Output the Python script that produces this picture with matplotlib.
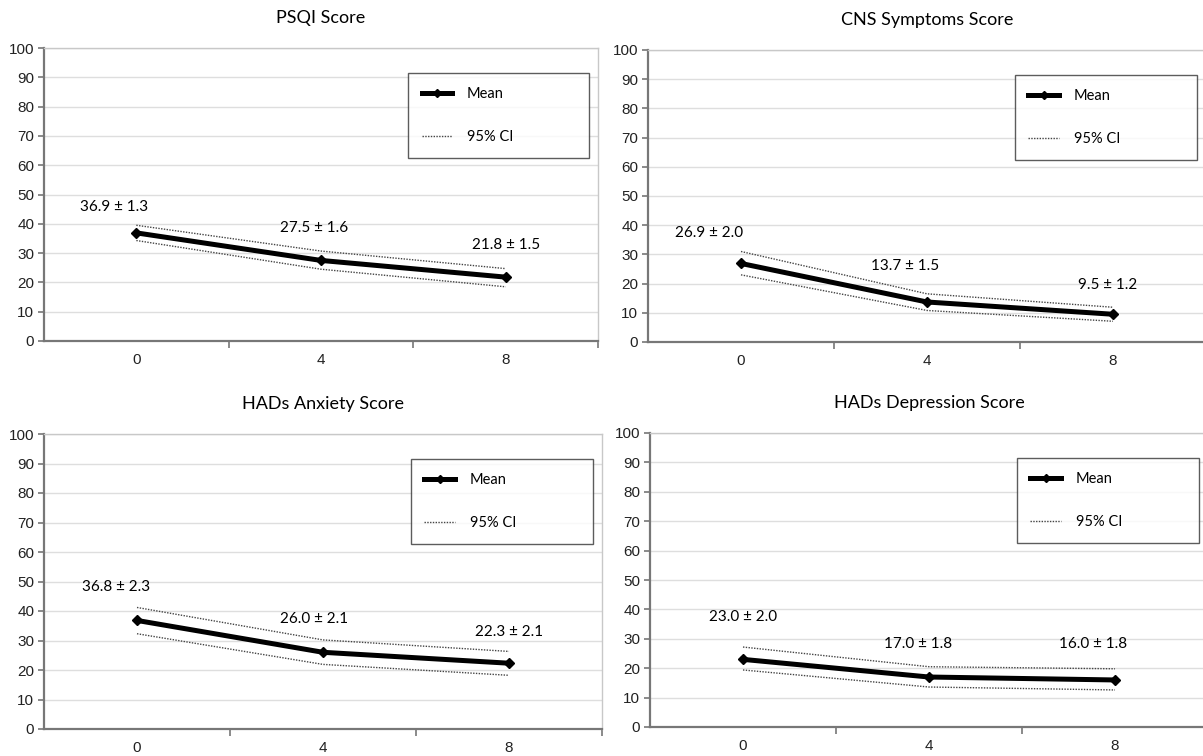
import matplotlib
matplotlib.use("Agg")
import matplotlib.pyplot as plt
from matplotlib.lines import Line2D

# weeks on the category axis
weeks = ["0", "4", "8"]

titles = ["PSQI Score", "CNS Symptoms Score", "HADs Anxiety Score", "HADs Depression Score"]

# mean values per panel
psqi_mean = [36.9, 27.5, 21.8]
cns_mean = [26.9, 13.7, 9.5]
anx_mean = [36.8, 26.0, 22.3]
dep_mean = [23.0, 17.0, 16.0]

# standard error printed in the labels
psqi_se = [1.3, 1.6, 1.5]
cns_se = [2.0, 1.5, 1.2]
anx_se = [2.3, 2.1, 2.1]
dep_se = [2.0, 1.8, 1.8]

# 95% CI bounds
psqi_upper = [39.5, 30.7, 24.7]
psqi_lower = [34.3, 24.5, 18.5]
cns_upper = [31.0, 16.5, 11.9]
cns_lower = [23.0, 10.8, 7.1]
anx_upper = [41.2, 30.2, 26.3]
anx_lower = [32.3, 21.9, 18.2]
dep_upper = [27.2, 20.5, 19.8]
dep_lower = [19.4, 13.6, 12.6]

panels = [
    (psqi_mean, psqi_se, psqi_upper, psqi_lower),
    (cns_mean, cns_se, cns_upper, cns_lower),
    (anx_mean, anx_se, anx_upper, anx_lower),
    (dep_mean, dep_se, dep_upper, dep_lower),
]

# layout: axes rectangles in pixels (left, top, width, height)
W, H = 1203, 756
rects_px = [(44, 48, 554, 293), (648, 50, 558, 292), (44, 434, 558, 295), (650, 433, 558, 294)]
# label placement (x shift in categories, y in data units)
label_xy = [
    [(-0.12, 45.7), (-0.04, 38.6), (0.0, 32.8)],
    [(-0.17, 37.3), (-0.12, 26.0), (-0.03, 19.5)],
    [(-0.11, 48.1), (-0.05, 37.3), (0.0, 32.9)],
    [(0.0, 37.4), (-0.06, 28.2), (-0.12, 28.2)],
]

TEXT_FONT = ["Lato", "DejaVu Sans"]
TICK_FONT = ["Liberation Sans Narrow", "Liberation Sans", "DejaVu Sans"]

fig = plt.figure(figsize=(W / 100, H / 100), dpi=100)

for k in range(4):
    x0, y0, w, h = rects_px[k]
    ax = fig.add_axes([x0 / W, 1 - (y0 + h) / H, w / W, h / H])
    mean, se, upper, lower = panels[k]
    xs = list(range(len(weeks)))

    ax.plot(xs, upper, color="#444444", lw=1.0, ls=(0, (1, 1)), zorder=3)
    ax.plot(xs, lower, color="#444444", lw=1.0, ls=(0, (1, 1)), zorder=3)
    ax.plot(xs, mean, color="black", lw=3.6, marker="D", ms=5.5, zorder=4)

    for i in xs:
        dx, ty = label_xy[k][i]
        ax.text(i + dx, ty, "%.1f \u00b1 %.1f" % (mean[i], se[i]),
                ha="center", va="center", fontsize=11, family=TEXT_FONT)

    ax.set_xlim(-0.5, 2.5)
    ax.set_ylim(0, 100)
    ax.set_yticks(range(0, 101, 10))
    ax.set_xticks(xs)
    ax.set_xticklabels(weeks)
    ax.set_xticks([0.5, 1.5, 2.5], minor=True)
    ax.tick_params(axis="x", which="major", length=0, pad=9)
    ax.tick_params(axis="x", which="minor", length=5, width=1.2, color="#777777")
    ax.tick_params(axis="y", length=4, width=1.2, color="#777777", pad=3)
    for lab in ax.get_xticklabels() + ax.get_yticklabels():
        lab.set_family(TICK_FONT)
        lab.set_fontsize(11)
        lab.set_color("#222222")

    ax.grid(axis="y", color="#dedede", lw=1.0)
    ax.set_axisbelow(True)
    for s in ["left", "bottom"]:
        ax.spines[s].set_color("#777777")
        ax.spines[s].set_linewidth(1.6)
    for s in ["top", "right"]:
        ax.spines[s].set_color("#c8c8c8")
        ax.spines[s].set_linewidth(1.0)

    ax.set_title(titles[k], fontsize=13, family=TEXT_FONT, pad=18)

    handles = [
        Line2D([], [], color="black", lw=3.6, marker="D", ms=4),
        Line2D([], [], color="#444444", lw=1.0, ls=(0, (1, 1))),
    ]
    # legend box spans a fixed part of the plot area, like the original
    leg = ax.legend(handles, ["Mean", "95% CI"], loc="upper left", mode="expand",
                    bbox_to_anchor=(0.657, 0.621, 0.327, 0.294),
                    prop={"family": TEXT_FONT, "size": 10.5},
                    frameon=True, fancybox=False, edgecolor="#333333",
                    borderpad=0.95, labelspacing=2.0, handlelength=2.1,
                    handletextpad=1.0, borderaxespad=0)
    leg.get_frame().set_linewidth(1.0)

fig.savefig("out.png", dpi=100)
